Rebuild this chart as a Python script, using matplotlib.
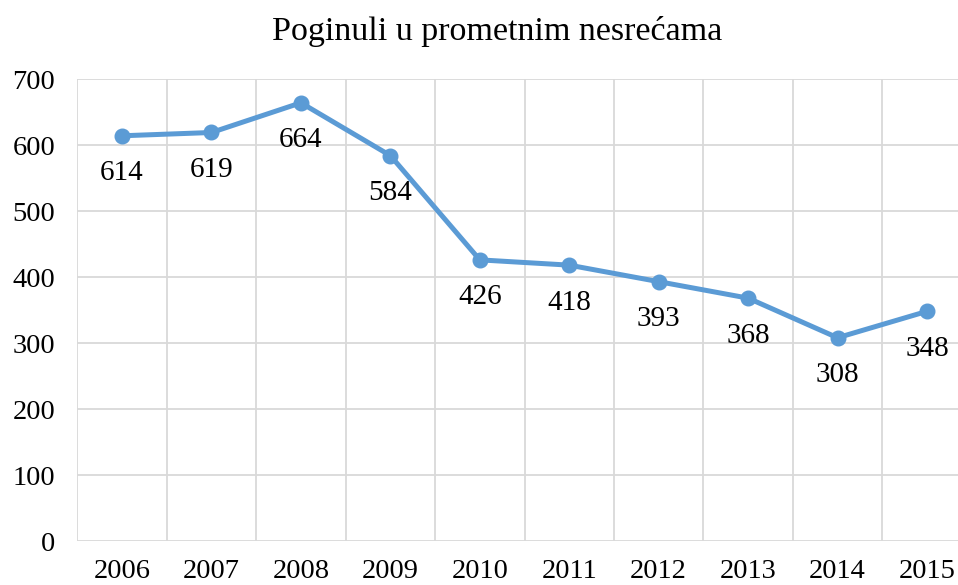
import matplotlib.pyplot as plt
import numpy as np

years = ['2006', '2007', '2008', '2009', '2010', '2011', '2012', '2013', '2014', '2015']
killed = [614, 619, 664, 584, 426, 418, 393, 368, 308, 348]

plt.rcParams['font.family'] = ['Liberation Serif', 'DejaVu Serif']

fig = plt.figure(figsize=(9.58, 5.85), dpi=100)
ax = fig.add_axes([0.0807, 0.0752, 0.9336, 0.7897])

x = np.arange(len(years))
ax.plot(x, killed, color='#5B9BD5', linewidth=3.6, marker='o', markersize=10.5, zorder=3)
for xi, v in zip(x, killed):
    ax.annotate(str(v), (xi, v), xytext=(0, -27), textcoords='offset points',
                ha='center', va='center', fontsize=21, color='black')

ax.set_xlim(-0.5, len(years) - 0.5)
ax.set_ylim(0, 700)
ax.set_yticks(range(0, 701, 100))
ax.set_xticks(x)
ax.set_xticklabels(years)
ax.set_xticks(np.arange(-0.5, len(years), 1), minor=True)

ax.grid(axis='y', which='major', color='#D9D9D9', linewidth=1.3)
ax.grid(axis='x', which='minor', color='#D9D9D9', linewidth=1.3)
ax.set_axisbelow(True)
for s in ax.spines.values():
    s.set_visible(False)
ax.tick_params(which='both', length=0, labelsize=20.5)
ax.tick_params(axis='y', pad=16)
ax.tick_params(axis='x', pad=13)

fig.suptitle('Poginuli u prometnim nesrećama', fontsize=24.5, x=0.519, y=0.972, va='top')

fig.savefig('out.png', dpi=100)
